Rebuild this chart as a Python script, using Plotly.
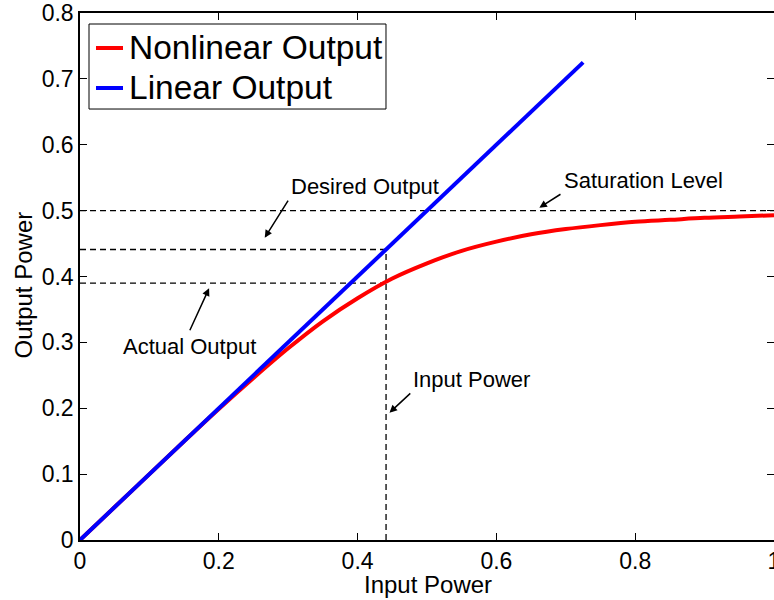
import plotly.graph_objects as go

# Amplifier transfer characteristic: input vs output power
input_power = [0.0, 0.05, 0.10, 0.15, 0.20, 0.25, 0.30, 0.35, 0.40, 0.45, 0.50,
               0.55, 0.60, 0.65, 0.70, 0.75, 0.80, 0.85, 0.90, 0.95, 1.00]
nonlinear_output = [0.0, 0.050, 0.100, 0.150, 0.199, 0.246, 0.291, 0.332, 0.367, 0.397, 0.420,
                    0.439, 0.453, 0.464, 0.472, 0.478, 0.483, 0.486, 0.489, 0.491, 0.493]

linear_input = [0.0, 0.725]
linear_output = [0.0, 0.725]

saturation_level = 0.5
operating_input = 0.441
desired_output = 0.441
actual_output = 0.39

series_names = ["Nonlinear Output", "Linear Output"]
series_colors = ["#ff0000", "#0000ff"]

x_ticks = [0, 0.2, 0.4, 0.6, 0.8, 1.0]
x_tick_labels = ["0", "0.2", "0.4", "0.6", "0.8", "1"]
y_ticks = [0, 0.1, 0.2, 0.3, 0.4, 0.5, 0.6, 0.7, 0.8]
y_tick_labels = ["0", "0.1", "0.2", "0.3", "0.4", "0.5", "0.6", "0.7", "0.8"]

FONT = "Liberation Sans, Arial, Helvetica, sans-serif"
DASH = "6px,4px"

fig = go.Figure()

# Reference levels (dashed guides)
guide = dict(mode="lines", showlegend=False, hoverinfo="skip",
             line=dict(color="black", width=1.3, dash=DASH))
fig.add_trace(go.Scatter(x=[0, 1], y=[saturation_level, saturation_level], **guide))
fig.add_trace(go.Scatter(x=[0, operating_input], y=[desired_output, desired_output], **guide))
fig.add_trace(go.Scatter(x=[0, operating_input], y=[actual_output, actual_output], **guide))
fig.add_trace(go.Scatter(x=[operating_input, operating_input], y=[0, desired_output], **guide))

# Curves
fig.add_trace(go.Scatter(x=input_power, y=nonlinear_output, mode="lines", showlegend=False,
                         name=series_names[0],
                         line=dict(color=series_colors[0], width=4, shape="spline")))
fig.add_trace(go.Scatter(x=linear_input, y=linear_output, mode="lines", showlegend=False,
                         name=series_names[1], line=dict(color=series_colors[1], width=4)))

# Right-hand tick marks
fig.add_trace(go.Scatter(x=[0], y=[0], yaxis="y2", mode="markers", showlegend=False,
                         marker=dict(opacity=0), hoverinfo="skip"))

labels = [
    ("Desired Output", 0.4105, 0.5372),
    ("Saturation Level", 0.8115, 0.545),
    ("Actual Output", 0.1578, 0.2934),
    ("Input Power", 0.5647, 0.2444),
]
arrows = [
    ((0.2662, 0.4589), (0.3012, 0.5176)),
    ((0.6619, 0.5044), (0.6945, 0.5263)),
    ((0.186, 0.3821), (0.1573, 0.3162)),
    ((0.446, 0.1932), (0.4781, 0.2247)),
]
annotations = []
for text, x, y in labels:
    annotations.append(dict(text=text, x=x, y=y, xref="x", yref="y", showarrow=False,
                            xanchor="center", yanchor="middle",
                            font=dict(family=FONT, size=22, color="black")))
for (hx, hy), (tx, ty) in arrows:
    annotations.append(dict(text="", x=hx, y=hy, ax=tx, ay=ty, xref="x", yref="y",
                            axref="x", ayref="y", showarrow=True, arrowhead=2,
                            arrowsize=1, arrowwidth=1.5, arrowcolor="black"))

# Axis titles
annotations.append(dict(text="Input Power", x=0.5014, y=-0.084, xref="paper", yref="paper",
                        showarrow=False, xanchor="center", yanchor="middle",
                        font=dict(family=FONT, size=24, color="black")))
annotations.append(dict(text="Output Power", x=-0.0807, y=0.4848, xref="paper", yref="paper",
                        showarrow=False, textangle=-90, xanchor="center", yanchor="middle",
                        font=dict(family=FONT, size=24, color="black")))

# Legend box with line samples
shapes = [dict(type="rect", xref="paper", yref="paper", x0=0.01297, x1=0.4409,
               y0=0.8178, y1=0.9791, line=dict(color="black", width=1), fillcolor="white",
               layer="above")]
legend_rows = [0.9336, 0.8577]
for name, color, ry in zip(series_names, series_colors, legend_rows):
    shapes.append(dict(type="line", xref="paper", yref="paper", x0=0.02305, x1=0.06196,
                       y0=ry, y1=ry, line=dict(color=color, width=4), layer="above"))
    annotations.append(dict(text=name, x=0.0677, y=ry, xref="paper", yref="paper",
                            showarrow=False, xanchor="left", yanchor="middle",
                            font=dict(family=FONT, size=33.5, color="black")))

axis_common = dict(showgrid=False, zeroline=False, ticks="inside", ticklen=7, tickwidth=1,
                   tickcolor="black", ticklabeloverflow="allow", automargin=False,
                   tickfont=dict(family=FONT, size=23, color="black"))

fig.update_layout(
    width=774, height=600,
    margin=dict(l=80, r=0, t=13, b=60, autoexpand=False),
    paper_bgcolor="white", plot_bgcolor="white",
    xaxis=dict(range=[0, 1], tickvals=x_ticks, ticktext=x_tick_labels,
               showline=True, linecolor="black", linewidth=1.5, mirror="ticks", **axis_common),
    yaxis=dict(range=[0, 0.8], tickvals=y_ticks, ticktext=y_tick_labels,
               showline=True, linecolor="black", linewidth=1.5, mirror=False, **axis_common),
    yaxis2=dict(range=[0, 0.8], overlaying="y", side="right", tickvals=y_ticks,
                showticklabels=False, showline=False, showgrid=False, zeroline=False,
                automargin=False, ticks="inside", ticklen=7, tickwidth=1, tickcolor="black"),
    shapes=shapes,
    annotations=annotations,
    showlegend=False,
)

fig.write_html("out.html")
